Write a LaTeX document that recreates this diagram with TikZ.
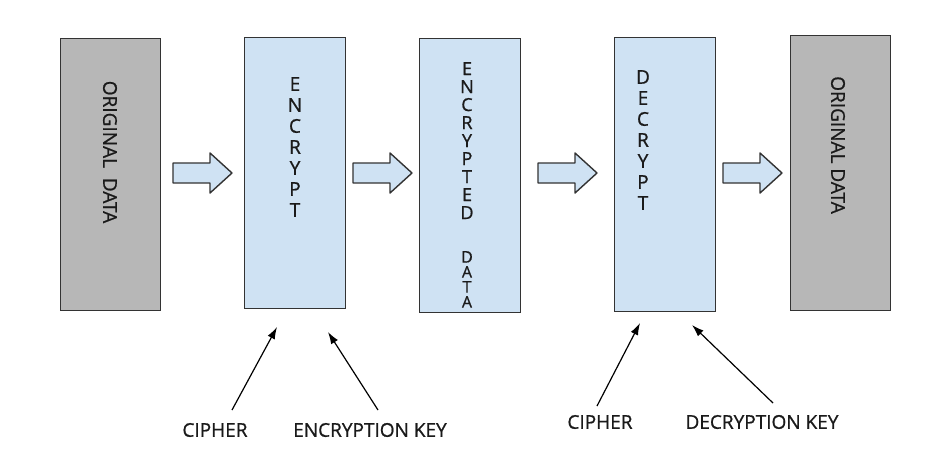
\documentclass[tikz,border=0pt]{standalone}
\usepackage{fontspec}
\setmainfont{Open Sans}[FakeBold=0.8]
\usetikzlibrary{arrows.meta}
\definecolor{boxblue}{HTML}{CFE2F3}
\definecolor{boxgray}{HTML}{B7B7B7}
\definecolor{edge}{HTML}{333333}
\definecolor{ink}{HTML}{1A1A1A}
\tikzset{
  databox/.style={draw=edge, line width=1.4pt, fill=boxgray, anchor=north west, inner sep=0pt},
  procbox/.style={draw=edge, line width=1.4pt, fill=boxblue, anchor=north west, inner sep=0pt},
  lbl/.style={font=\fontsize{19}{22}\selectfont, text=ink, inner sep=0pt},
  stack/.style={font=\fontsize{19}{21}\selectfont, text=ink, inner sep=0pt, align=center, anchor=north},
  letter/.style={font=\fontsize{16}{16}\selectfont, text=ink, inner sep=0pt, anchor=north},
  blockarrow/.style={draw=edge, line width=1.4pt, fill=boxblue, line join=round},
  keyarrow/.style={draw=black, line width=1.2pt, -{Latex[length=12pt,width=8pt]}},
}
\begin{document}
\begin{tikzpicture}[x=1pt,y=-1pt]
\useasboundingbox (0,0) rectangle (927,451);
% boxes
\node[databox, minimum width=100pt, minimum height=272pt] (orig1) at (60,38) {};
\node[procbox, minimum width=101pt, minimum height=271pt] (enc) at (244,37) {};
\node[procbox, minimum width=101pt, minimum height=274pt] (encdata) at (419,38) {};
\node[procbox, minimum width=101pt, minimum height=274pt] (dec) at (614,37) {};
\node[databox, minimum width=100pt, minimum height=275pt] (orig2) at (790,35) {};
% texts in boxes
\node[lbl, rotate=-90] (t1) at (110,152) {ORIGINAL\ \ DATA};
\node[stack] (t2) at (295,77) {E\\N\\C\\R\\Y\\P\\T};
\node[stack, font=\fontsize{18}{18}\selectfont] (t3) at (467,62) {E\\N\\C\\R\\Y\\P\\T\\E\\D};
\node[letter] (d1) at (467,251) {D};
\node[letter] (d2) at (467,266) {A};
\node[letter] (d3) at (467,281) {T};
\node[letter] (d4) at (467,296) {A};
\node[stack] (t4) at (643,70) {D\\E\\C\\R\\Y\\P\\T};
\node[lbl, rotate=-90] (t5) at (838,145) {ORIGINAL DATA};
% block arrows
\foreach \x in {173,353,538,723}{
  \draw[blockarrow] (\x,163) -- ++(37,0) -- ++(0,-10) -- ++(22,20) -- ++(-22,20) -- ++(0,-10) -- ++(-37,0) -- cycle;
}
% labels
\node[lbl] (cipher1) at (215,430) {CIPHER};
\node[lbl] (enckey) at (370,430) {ENCRYPTION KEY};
\node[lbl] (cipher2) at (600,422) {CIPHER};
\node[lbl] (deckey) at (762,422) {DECRYPTION KEY};
% arrow ends
\coordinate (a1s) at (232,410); \coordinate (a1e) at (277,327);
\coordinate (a2s) at (378,410); \coordinate (a2e) at (328,332);
\coordinate (a3s) at (597,406); \coordinate (a3e) at (640,323);
\coordinate (a4s) at (773,403); \coordinate (a4e) at (692,325);
\draw[keyarrow] (a1s) -- (a1e);
\draw[keyarrow] (a2s) -- (a2e);
\draw[keyarrow] (a3s) -- (a3e);
\draw[keyarrow] (a4s) -- (a4e);
\end{tikzpicture}
\end{document}
